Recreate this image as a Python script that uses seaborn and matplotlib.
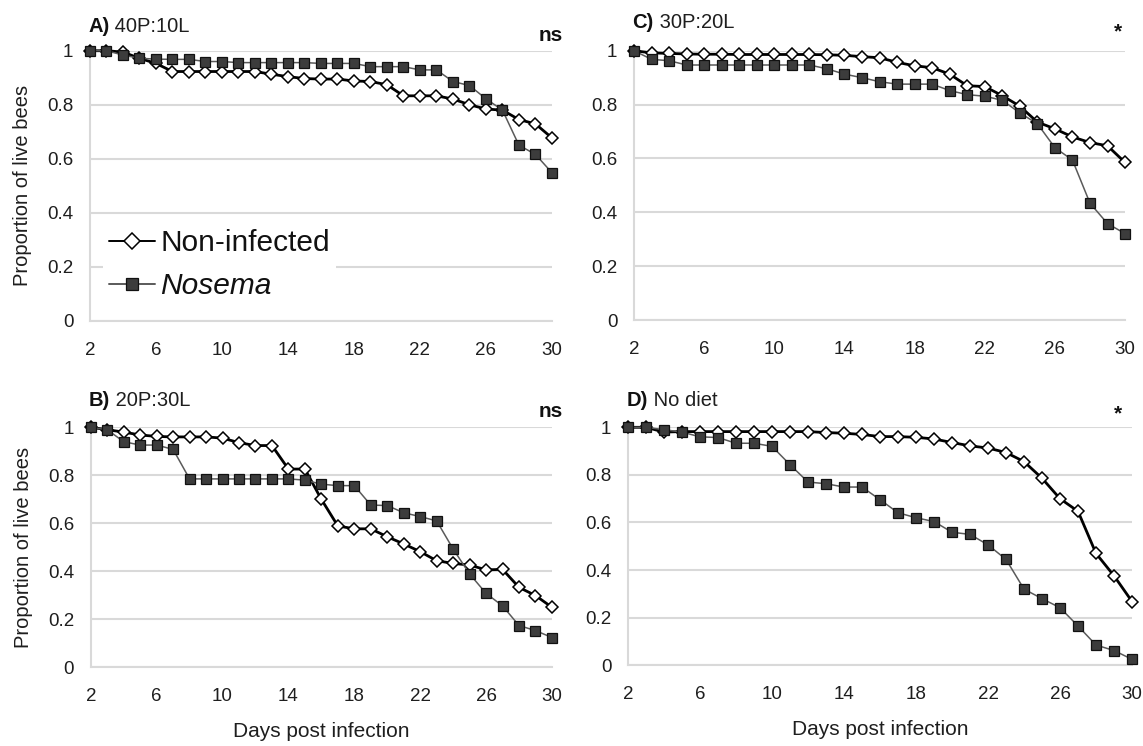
import matplotlib
matplotlib.use("Agg")
import matplotlib.pyplot as plt
import seaborn as sns

# Survival of bees after infection, days 2-30
days = list(range(2, 31))

a_non = [1.0, 1.0, 0.995, 0.972, 0.953, 0.923, 0.923, 0.923, 0.923, 0.923, 0.923,
         0.913, 0.904, 0.897, 0.895, 0.895, 0.888, 0.886, 0.874, 0.833, 0.833, 0.833,
         0.821, 0.80, 0.784, 0.78, 0.745, 0.729, 0.677]
a_nos = [1.0, 1.0, 0.984, 0.972, 0.969, 0.968, 0.968, 0.96, 0.96, 0.956, 0.956,
         0.956, 0.956, 0.956, 0.953, 0.953, 0.953, 0.941, 0.941, 0.941, 0.929, 0.929,
         0.886, 0.871, 0.822, 0.78, 0.65, 0.616, 0.548]

b_non = [1.0, 0.99, 0.98, 0.968, 0.962, 0.96, 0.96, 0.96, 0.955, 0.936, 0.924,
         0.924, 0.826, 0.826, 0.70, 0.589, 0.577, 0.577, 0.544, 0.514, 0.482, 0.444,
         0.433, 0.426, 0.406, 0.408, 0.333, 0.299, 0.25]
b_nos = [1.0, 0.99, 0.94, 0.926, 0.926, 0.908, 0.785, 0.785, 0.785, 0.785, 0.785,
         0.785, 0.785, 0.78, 0.763, 0.757, 0.757, 0.676, 0.674, 0.644, 0.628, 0.61,
         0.493, 0.389, 0.308, 0.256, 0.174, 0.153, 0.124]

c_non = [1.0, 0.992, 0.99, 0.988, 0.987, 0.987, 0.986, 0.986, 0.986, 0.986, 0.986,
         0.985, 0.983, 0.978, 0.974, 0.957, 0.944, 0.937, 0.913, 0.87, 0.867, 0.833,
         0.794, 0.735, 0.71, 0.68, 0.659, 0.647, 0.585]
c_nos = [1.0, 0.968, 0.963, 0.947, 0.947, 0.947, 0.947, 0.947, 0.947, 0.947, 0.947,
         0.933, 0.913, 0.90, 0.885, 0.876, 0.876, 0.876, 0.852, 0.837, 0.831, 0.816,
         0.769, 0.729, 0.64, 0.594, 0.434, 0.358, 0.321]

d_non = [1.0, 1.0, 0.98, 0.982, 0.982, 0.982, 0.982, 0.982, 0.982, 0.982, 0.982,
         0.978, 0.975, 0.97, 0.961, 0.961, 0.958, 0.951, 0.936, 0.922, 0.913, 0.894,
         0.856, 0.786, 0.70, 0.647, 0.47, 0.376, 0.268]
d_nos = [1.0, 1.0, 0.99, 0.98, 0.96, 0.957, 0.933, 0.933, 0.92, 0.843, 0.77,
         0.763, 0.749, 0.749, 0.696, 0.641, 0.62, 0.604, 0.559, 0.55, 0.506, 0.445,
         0.32, 0.28, 0.242, 0.165, 0.085, 0.062, 0.025]

panel_letters = ["A)", "B)", "C)", "D)"]
panel_diets = ["40P:10L", "20P:30L", "30P:20L", "No diet"]
panel_signif = ["ns", "ns", "*", "*"]
series_labels = ["Non-infected", "Nosema"]
x_ticks = [2, 6, 10, 14, 18, 22, 26, 30]
y_ticks = [0, 0.2, 0.4, 0.6, 0.8, 1.0]
y_tick_labels = ["0", "0.2", "0.4", "0.6", "0.8", "1"]

sns.set_theme(style="white")
plt.rcParams["font.family"] = ["Liberation Sans", "DejaVu Sans"]

fig = plt.figure(figsize=(11.43, 7.46), dpi=100)

# axes rectangles: A, B, C, D
rects = [
    [0.0787, 0.5701, 0.4042, 0.3619],
    [0.0794, 0.1055, 0.4035, 0.3217],
    [0.5547, 0.5710, 0.4296, 0.3610],
    [0.5494, 0.1082, 0.4410, 0.3190],
]
data = [(a_non, a_nos), (b_non, b_nos), (c_non, c_nos), (d_non, d_nos)]
# heading heights and significance-mark positions (figure fractions)
title_y = [0.9645, 0.4635, 0.9705, 0.4635]
signif_xy = [(0.4926, 0.953), (0.4926, 0.449), (0.978, 0.957), (0.978, 0.445)]
signif_ha = ["right", "right", "center", "center"]

grid_col = "#d9d9d9"
text_col = "#1e1e1e"
axes = []
for i, rect in enumerate(rects):
    ax = fig.add_axes(rect)
    axes.append(ax)
    non, nos = data[i]
    sns.lineplot(x=days, y=non, ax=ax, estimator=None, color="black", lw=2.0,
                 marker="D", markersize=6.4, markerfacecolor="white",
                 markeredgecolor="black", markeredgewidth=1.1,
                 label=series_labels[0], clip_on=False, zorder=3)
    sns.lineplot(x=days, y=nos, ax=ax, estimator=None, color="#5a5a5a", lw=1.1,
                 marker="s", markersize=6.6, markerfacecolor="#3c3c3c",
                 markeredgecolor="#111111", markeredgewidth=0.9,
                 label=series_labels[1], clip_on=False, zorder=4)
    ax.set_xlim(2, 30)
    ax.set_ylim(0, 1)
    ax.set_xticks(x_ticks)
    ax.set_xticklabels([str(t) for t in x_ticks], fontsize=13.5, color=text_col)
    ax.set_yticks(y_ticks)
    ax.set_yticklabels(y_tick_labels, fontsize=13.5, color=text_col)
    ax.tick_params(axis="both", length=0)
    ax.tick_params(axis="x", pad=15)
    ax.tick_params(axis="y", pad=12)
    ax.yaxis.grid(True, color=grid_col, lw=1.5, zorder=0)
    ax.xaxis.grid(False)
    ax.set_axisbelow(True)
    for side in ("top", "right"):
        ax.spines[side].set_visible(False)
    for side in ("left", "bottom"):
        ax.spines[side].set_color(grid_col)
        ax.spines[side].set_linewidth(1.5)
    ax.set_xlabel("")
    ax.set_ylabel("")
    leg = ax.get_legend()
    if leg is not None:
        leg.remove()

    # panel heading: bold letter followed by diet name
    x0 = rect[0] - 0.0015
    t1 = fig.text(x0, title_y[i], panel_letters[i], fontsize=14.5,
                  fontweight="bold", ha="left", va="center", color="#111111")
    ax.annotate(" " + panel_diets[i], xy=(1, 0.5), xycoords=t1,
                fontsize=14.5, ha="left", va="center", color=text_col)
    fig.text(signif_xy[i][0], signif_xy[i][1], panel_signif[i], fontsize=15,
             fontweight="bold", ha=signif_ha[i], va="center", color="#111111")

# shared labels
for i in (0, 1):
    axes[i].set_ylabel("Proportion of live bees", fontsize=14.5, color=text_col,
                       labelpad=11)
for i in (1, 3):
    axes[i].set_xlabel("Days post infection", fontsize=15, color=text_col,
                       labelpad=12)

# legend inside panel A
handles, labels = axes[0].get_lines()[:2], series_labels
leg = axes[0].legend(handles, labels, loc="upper left",
                     bbox_to_anchor=(-0.004, 0.417), fontsize=21.5,
                     handlelength=1.55, handletextpad=0.17, labelspacing=0.5,
                     borderpad=0.2, frameon=True, facecolor="white",
                     edgecolor="none", framealpha=1.0, fancybox=False,
                     markerscale=1.3)
leg.set_zorder(5)
leg.get_texts()[1].set_style("italic")
for t in leg.get_texts():
    t.set_color("#111111")
for h in leg.legend_handles:
    h.set_linewidth(1.4)

fig.savefig("out.png", dpi=100)
